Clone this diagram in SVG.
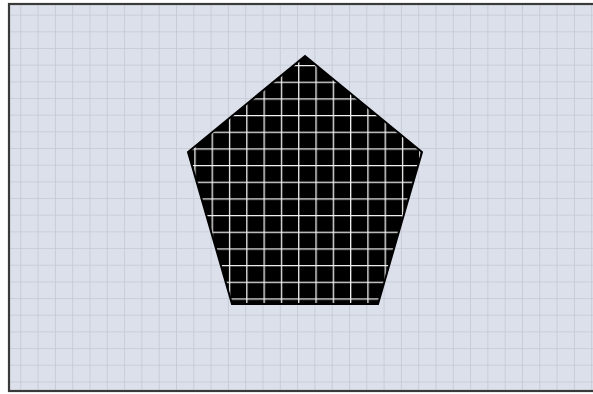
<svg xmlns="http://www.w3.org/2000/svg" width="593" height="394" viewBox="0 0 593 394">
  <defs>
    <pattern id="bgGrid" patternUnits="userSpaceOnUse" x="3" y="-2" width="17.3" height="16.67">
      <rect width="17.3" height="16.67" fill="#dce0eb"/>
      <path d="M0 0V16.67M0 0H17.3" stroke="#c4c8d2" stroke-width="1.6" fill="none"/>
    </pattern>
    <pattern id="penGrid" patternUnits="userSpaceOnUse" x="194.3" y="65" width="17.3" height="16.67">
      <rect width="17.3" height="16.67" fill="#000"/>
      <path d="M0 -1V18M-1 0H18.3" stroke="#f2f2f2" stroke-width="2.6" fill="none"/>
    </pattern>
    <style>
      .frame { fill: url(#bgGrid); stroke: #3a3a3a; stroke-width: 2.2; }
      .pent { fill: url(#penGrid); stroke: #000; stroke-width: 2; stroke-linejoin: miter; }
    </style>
  </defs>
  <rect width="593" height="394" fill="#ffffff"/>
  <g id="background">
    <rect class="frame" x="9" y="4" width="600" height="387"/>
  </g>
  <g id="pentagon">
    <polygon class="pent" points="305,56 422,152 378,304 232,304 188,152"/>
  </g>
  <g id="connectors"/>
</svg>
